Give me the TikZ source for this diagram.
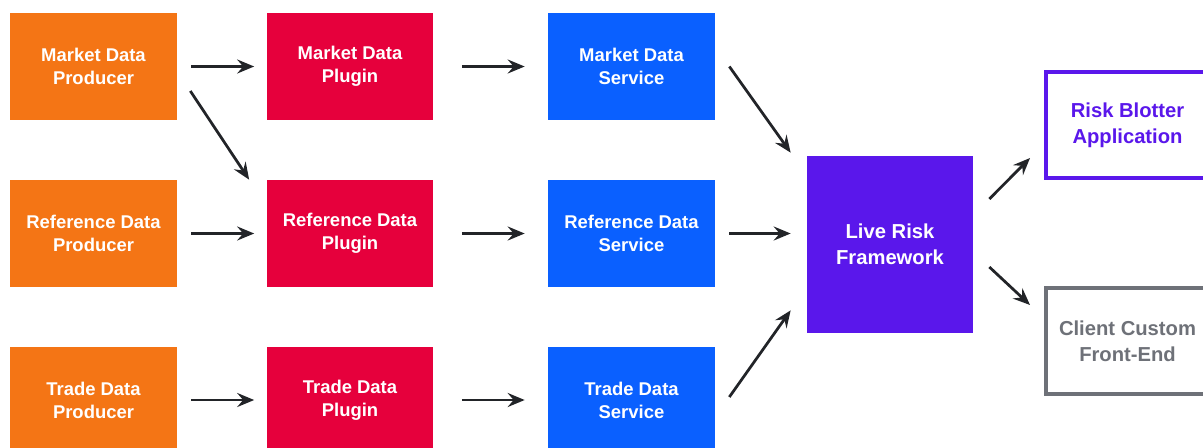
\documentclass[tikz,border=0pt]{standalone}
\usepackage{fontspec}
\setmainfont{Liberation Sans}
\usetikzlibrary{arrows.meta,calc}
\definecolor{prodorange}{HTML}{F47515}
\definecolor{plugred}{HTML}{E6003C}
\definecolor{servblue}{HTML}{0A60FF}
\definecolor{riskpurple}{HTML}{5A17EB}
\definecolor{clientgray}{HTML}{6E7178}
\definecolor{arrowdark}{HTML}{222428}
\begin{document}
\begin{tikzpicture}[x=0.02cm, y=-0.02cm,
	box/.style={minimum width=3.34cm, minimum height=2.14cm, inner sep=0pt, align=center, text=white, font=\bfseries\fontsize{10.5}{13}\selectfont},
	prod/.style={box, fill=prodorange},
	plug/.style={box, fill=plugred},
	serv/.style={box, fill=servblue},
	outbox/.style={minimum width=3.26cm, minimum height=2.12cm, inner sep=0pt, align=center, line width=0.08cm, fill=white, font=\bfseries\fontsize{11.5}{15}\selectfont},
	flow/.style={draw=arrowdark, line width=0.055cm, -{Stealth[length=0.34cm, width=0.28cm, inset=0.12cm]}, shorten <=0.28cm, shorten >=0.24cm}]
	\useasboundingbox (0, 0) rectangle (1203, 447);
	% producers
	\node[prod] (mprod) at (93.5, 66.5) {Market Data\\Producer};
	\node[prod] (refprod) at (93.5, 233.5) {Reference Data\\Producer};
	\node[prod] (trprod) at (93.5, 400) {Trade Data\\Producer};
	% plugins
	\node[plug] (mplug) at (350, 66.5) {Market Data\\Plugin};
	\node[plug] (refplug) at (350, 233.5) {Reference Data\\Plugin};
	\node[plug] (trplug) at (350, 400) {Trade Data\\Plugin};
	% services
	\node[serv] (mserv) at (631.5, 66.5) {Market Data\\Service};
	\node[serv] (refserv) at (631.5, 233.5) {Reference Data\\Service};
	\node[serv] (trserv) at (631.5, 400) {Trade Data\\Service};
	% framework and front ends
	\node[box, fill=riskpurple, minimum width=3.32cm, minimum height=3.54cm, font=\bfseries\fontsize{11.5}{15}\selectfont] (live) at (890, 244.5) {Live Risk\\Framework};
	\node[outbox, draw=riskpurple, text=riskpurple] (blotter) at (1127.5, 125) {Risk Blotter\\Application};
	\node[outbox, draw=clientgray, text=clientgray] (client) at (1127.5, 341) {Client Custom\\Front-End};

	\draw[flow] (mprod) -- (mplug);
	\draw[flow] (refprod) -- (refplug);
	\draw[flow] (trprod) -- (trplug);
	\draw[flow, shorten <=0.56cm, shorten >=0.46cm] (mplug) -- (mserv);
	\draw[flow, shorten <=0.56cm, shorten >=0.46cm] (refplug) -- (refserv);
	\draw[flow, shorten <=0.56cm, shorten >=0.46cm] (trplug) -- (trserv);
	\draw[flow, shorten <=0pt, shorten >=0pt] ($(mprod.east) + (13, 24.5)$) -- ($(refplug.north west) + (-17, 0)$);
	\draw[flow, shorten <=0pt, shorten >=0pt] ($(mserv.east) + (14, 0)$) -- ($(live.north west) + (-16, -3)$);
	\draw[flow, shorten >=0.32cm] (refserv.east) -- (refserv.east -| live.west);
	\draw[flow, shorten <=0pt, shorten >=0pt] ($(trserv.east) + (14, -3)$) -- ($(live.south west) + (-16, -23)$);
	\draw[flow, shorten <=0pt, shorten >=0pt] ($(live.east) + (16, -45.5)$) -- ($(blotter.west) + (-14, 33)$);
	\draw[flow, shorten <=0pt, shorten >=0pt] ($(live.east) + (16, 22.5)$) -- ($(client.west) + (-14, -36)$);
\end{tikzpicture}
\end{document}
